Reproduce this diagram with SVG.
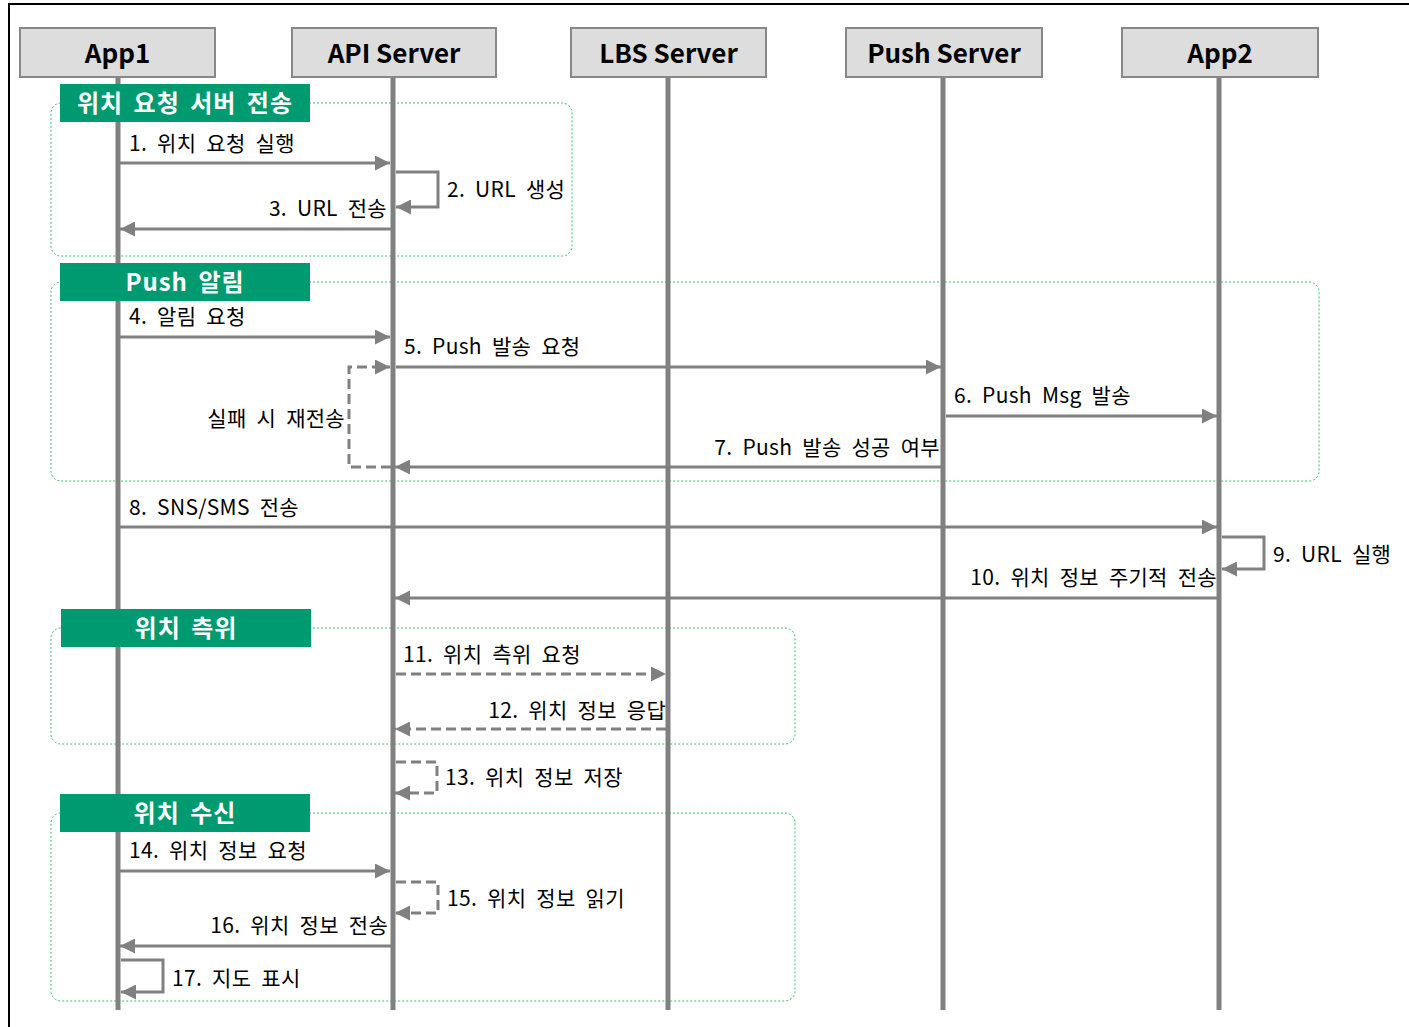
<svg xmlns="http://www.w3.org/2000/svg" width="1409" height="1027" viewBox="0 0 1409 1027">
<defs>
<marker id="ah" markerUnits="userSpaceOnUse" markerWidth="15" markerHeight="15" refX="15" refY="7.5" orient="auto">
<path d="M0,0 L15,7.5 L0,15 Z" fill="#808080" stroke="none"/>
</marker>
</defs>
<style>
.frame{stroke:#000;stroke-width:2;fill:none}
.grp{fill:none;stroke:#33c065;stroke-width:1;stroke-dasharray:2 2}
.life{stroke:#808080;stroke-width:5}
.hdr{fill:#dddddd;stroke:#888;stroke-width:2}
.hdrt{font-family:"Noto Sans CJK KR","Noto Sans",sans-serif;font-weight:bold;font-size:26px;fill:#000;text-anchor:middle}
.msg{fill:none;stroke:#808080;stroke-width:3;marker-end:url(#ah)}
.dash{stroke-dasharray:10 5}
.tag{fill:#009a70}
.tagt{font-family:"Noto Sans CJK KR","Noto Sans",sans-serif;font-weight:bold;font-size:24px;fill:#fff;text-anchor:middle;word-spacing:4px;letter-spacing:1px}
.lbl{font-family:"Noto Sans CJK KR","Noto Sans",sans-serif;font-size:21px;fill:#000;word-spacing:5px;letter-spacing:0.3px}
.end{text-anchor:end}
</style>
<rect width="1409" height="1027" fill="#fff"/>
<path class="frame" d="M9,1027 V4 H1409"/>
<g id="groups">
<rect id="grp-1" class="grp" x="51" y="103" width="521" height="153" rx="10"/>
<rect id="grp-2" class="grp" x="51" y="282" width="1268" height="199" rx="10"/>
<rect id="grp-3" class="grp" x="51" y="628" width="744" height="116" rx="10"/>
<rect id="grp-4" class="grp" x="51" y="813" width="744" height="188" rx="10"/>
</g>
<g id="lifelines">
<line class="life" x1="118" y1="77" x2="118" y2="1010"/>
<line class="life" x1="393" y1="77" x2="393" y2="1010"/>
<line class="life" x1="668" y1="77" x2="668" y2="1010"/>
<line class="life" x1="943" y1="77" x2="943" y2="1010"/>
<line class="life" x1="1219" y1="77" x2="1219" y2="1010"/>
</g>
<g id="app1"><rect class="hdr" x="20" y="28" width="195" height="49"/><text class="hdrt" x="117.5" y="63">App1</text></g>
<g id="api-server"><rect class="hdr" x="292" y="28" width="204" height="49"/><text class="hdrt" x="394" y="63">API Server</text></g>
<g id="lbs-server"><rect class="hdr" x="571" y="28" width="195" height="49"/><text class="hdrt" x="668.5" y="63">LBS Server</text></g>
<g id="push-server"><rect class="hdr" x="846" y="28" width="196" height="49"/><text class="hdrt" x="944" y="63">Push Server</text></g>
<g id="app2"><rect class="hdr" x="1122" y="28" width="196" height="49"/><text class="hdrt" x="1220" y="63">App2</text></g>
<g id="connectors">
<path class="msg" d="M120,163 H390"/>
<path class="msg" d="M396,172 H438 V207 H396"/>
<path class="msg" d="M391,229 H120"/>
<path class="msg" d="M120,337 H390"/>
<path class="msg" d="M396,367 H941"/>
<path class="msg dash" d="M391,467 H349 V367 H390"/>
<path class="msg" d="M946,416 H1217"/>
<path class="msg" d="M941,467 H395"/>
<path class="msg" d="M120,527 H1217"/>
<path class="msg" d="M1222,537 H1264 V569 H1222"/>
<path class="msg" d="M1217,598 H395"/>
<path class="msg dash" d="M396,674 H666"/>
<path class="msg dash" d="M666,729 H395"/>
<path class="msg dash" d="M396,762 H437 V793 H395"/>
<path class="msg" d="M120,871 H390"/>
<path class="msg dash" d="M396,882 H438 V913 H395"/>
<path class="msg" d="M391,946 H120"/>
<path class="msg" d="M121,960 H163 V992 H121"/>
</g>
<g id="tag-1"><rect class="tag" x="60" y="84" width="250" height="38"/><text class="tagt" x="185" y="112">위치 요청 서버 전송</text></g>
<g id="tag-2"><rect class="tag" x="60" y="263" width="250" height="38"/><text class="tagt" x="185" y="291">Push 알림</text></g>
<g id="tag-3"><rect class="tag" x="61" y="609" width="250" height="38"/><text class="tagt" x="186" y="637">위치 측위</text></g>
<g id="tag-4"><rect class="tag" x="60" y="794" width="250" height="38"/><text class="tagt" x="185" y="822">위치 수신</text></g>
<g id="labels">
<text class="lbl" x="129" y="151">1. 위치 요청 실행</text>
<text class="lbl" x="447" y="197">2. URL 생성</text>
<text class="lbl end" x="387" y="216">3. URL 전송</text>
<text class="lbl" x="129" y="324">4. 알림 요청</text>
<text class="lbl" x="404" y="354">5. Push 발송 요청</text>
<text class="lbl end" x="345" y="426">실패 시 재전송</text>
<text class="lbl" x="954" y="403">6. Push Msg 발송</text>
<text class="lbl end" x="940" y="455">7. Push 발송 성공 여부</text>
<text class="lbl" x="129" y="515">8. SNS/SMS 전송</text>
<text class="lbl" x="1273" y="562">9. URL 실행</text>
<text class="lbl end" x="1217" y="585">10. 위치 정보 주기적 전송</text>
<text class="lbl" x="403" y="662">11. 위치 측위 요청</text>
<text class="lbl end" x="666" y="718">12. 위치 정보 응답</text>
<text class="lbl" x="445" y="785">13. 위치 정보 저장</text>
<text class="lbl" x="129" y="858">14. 위치 정보 요청</text>
<text class="lbl" x="447" y="906">15. 위치 정보 읽기</text>
<text class="lbl end" x="388" y="933">16. 위치 정보 전송</text>
<text class="lbl" x="172" y="986">17. 지도 표시</text>
</g>
</svg>
